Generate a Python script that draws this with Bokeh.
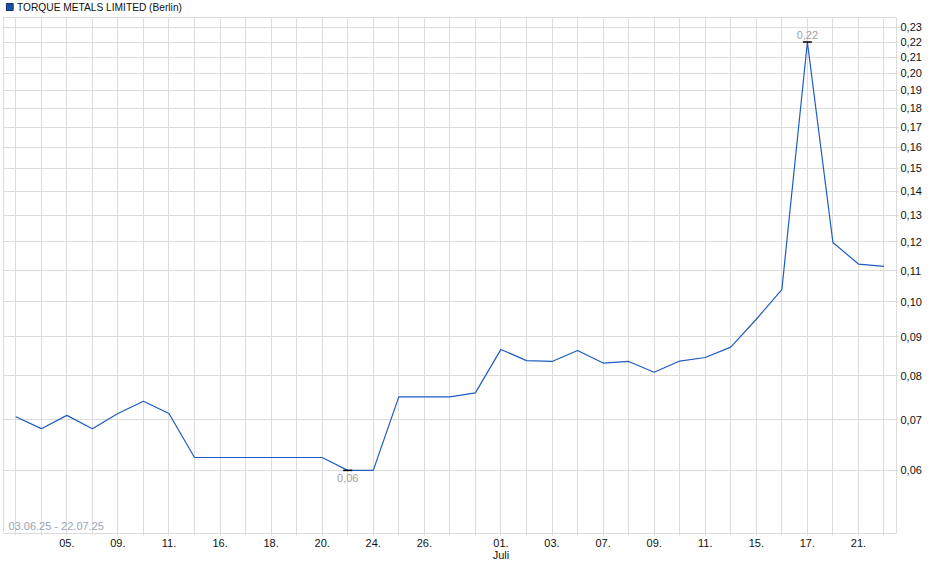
import numpy as np
from bokeh.plotting import figure
from bokeh.layouts import column
from bokeh.models import Range1d, FixedTicker, Label, ColumnDataSource
from bokeh.core.properties import value
from bokeh.embed import file_html
from bokeh.resources import INLINE

# ---- data ----
dates = ["03.06.", "04.06.", "05.06.", "06.06.", "09.06.", "10.06.", "11.06.",
         "12.06.", "16.06.", "17.06.", "18.06.", "19.06.", "20.06.", "23.06.",
         "24.06.", "25.06.", "26.06.", "27.06.", "30.06.", "01.07.", "02.07.",
         "03.07.", "04.07.", "07.07.", "08.07.", "09.07.", "10.07.", "11.07.",
         "14.07.", "15.07.", "16.07.", "17.07.", "18.07.", "21.07.", "22.07."]
prices = [0.0706, 0.0681, 0.0709, 0.0681, 0.0713, 0.0740, 0.0713,
          0.0624, 0.0624, 0.0624, 0.0624, 0.0624, 0.0624, 0.0600,
          0.0600, 0.0750, 0.0750, 0.0750, 0.0759, 0.0866, 0.0837,
          0.0835, 0.0863, 0.0831, 0.0835, 0.0808, 0.0836, 0.0845,
          0.0872, 0.0949, 0.1038, 0.2200, 0.1198, 0.1122, 0.1114]
tick_idx = [2, 4, 6, 8, 10, 12, 14, 16, 19, 21, 23, 25, 27, 29, 31, 33]
tick_text = ["05.", "09.", "11.", "16.", "18.", "20.", "24.", "26.", "01.\nJuli",
             "03.", "07.", "09.", "11.", "15.", "17.", "21."]
y_ticks = [0.06, 0.07, 0.08, 0.09, 0.10, 0.11, 0.12, 0.13, 0.14, 0.15, 0.16,
           0.17, 0.18, 0.19, 0.20, 0.21, 0.22, 0.23]
series_name = "TORQUE METALS LIMITED (Berlin)"
period_text = "03.06.25 - 22.07.25"

FONT = "Liberation Sans"
GRID = "#dcdcdc"
LINE = "#1f5cbf"
W = 924
HEAD_H = 17

idx = list(range(len(prices)))
Y0, Y1 = 0.04955, 0.2370

# ---- header (legend row) ----
head = figure(width=W, height=HEAD_H, output_backend="svg", toolbar_location=None,
              x_range=Range1d(0, W), y_range=Range1d(HEAD_H, 0),
              min_border=0, x_axis_type=None, y_axis_type=None)
head.outline_line_color = None
head.grid.visible = False
head.quad(left=[3], right=[10], top=[3], bottom=[10], fill_color="#1a4ea8",
          line_color="#0d2f6e", line_width=1)
head.text(x=[14], y=[7], text=[series_name], text_baseline="middle",
          text_align="left", text_font=value(FONT), text_font_size="10.2px",
          text_color="#111111")

# ---- main chart ----
p = figure(width=W, height=563 - HEAD_H, output_backend="svg",
           toolbar_location=None,
           y_axis_type="log", x_axis_location="below", y_axis_location="right",
           x_range=Range1d(-0.48, 34.49), y_range=Range1d(Y0, Y1),
           min_border_left=3, min_border_right=26, min_border_top=0,
           min_border_bottom=0)
p.outline_line_color = GRID
p.background_fill_color = "white"

# grids
p.xgrid.ticker = FixedTicker(ticks=idx)
p.ygrid.ticker = FixedTicker(ticks=y_ticks)
for g in (p.xgrid, p.ygrid):
    g.grid_line_color = GRID
    g.grid_line_width = 1

# x axis
xa = p.xaxis[0]
xa.ticker = FixedTicker(ticks=tick_idx, minor_ticks=idx)
xa.major_label_overrides = {i: t for i, t in zip(tick_idx, tick_text)}
xa.axis_line_color = None
xa.major_tick_line_color = GRID
xa.minor_tick_line_color = GRID
xa.major_tick_out = 2
xa.major_tick_in = 0
xa.minor_tick_out = 2
xa.minor_tick_in = 0
xa.major_label_standoff = 1
xa.major_label_text_font = FONT
xa.major_label_text_font_size = "11px"
xa.major_label_text_line_height = 1.0
xa.major_label_text_color = "#111111"

# y axis
ya = p.yaxis[0]
ya.ticker = FixedTicker(ticks=y_ticks, minor_ticks=[])
ya.major_label_overrides = {v: ("%.2f" % v).replace(".", ",") for v in y_ticks}
ya.axis_line_color = None
ya.major_tick_line_color = GRID
ya.major_tick_out = 2
ya.major_tick_in = 0
ya.minor_tick_line_color = None
ya.major_label_standoff = 2
ya.major_label_text_font = FONT
ya.major_label_text_font_size = "11px"
ya.major_label_text_color = "#111111"

# line
p.line(idx, prices, line_color=LINE, line_width=1.2)

# extremes
imax = int(np.argmax(prices))
imin = int(np.argmin(prices))
ext = ColumnDataSource(dict(x=[imax, imin], y=[prices[imax], prices[imin]],
                            t=[("%.2f" % prices[imax]).replace(".", ","),
                               ("%.2f" % prices[imin]).replace(".", ",")]))
p.scatter("x", "y", source=ext, marker="dash", size=9, line_color="#000000",
          line_width=1.5)
p.text(x=[imax], y=[prices[imax]], text=[ext.data["t"][0]], text_align="center",
       text_baseline="bottom", y_offset=-3, text_font=value(FONT),
       text_font_size="11px", text_color="#a0a0a0")
p.text(x=[imin], y=[prices[imin]], text=[ext.data["t"][1]], text_align="center",
       text_baseline="top", y_offset=4, text_font=value(FONT),
       text_font_size="11px", text_color="#a0a0a0")

# period label
p.add_layout(Label(x=-0.48, y=Y0, x_offset=5, y_offset=2, text=period_text,
                   text_baseline="bottom", text_font=FONT, text_font_size="11px",
                   text_color="#9aa4b4"))

layout = column(head, p, spacing=0)
open("out.html", "w").write(file_html(layout, INLINE))
